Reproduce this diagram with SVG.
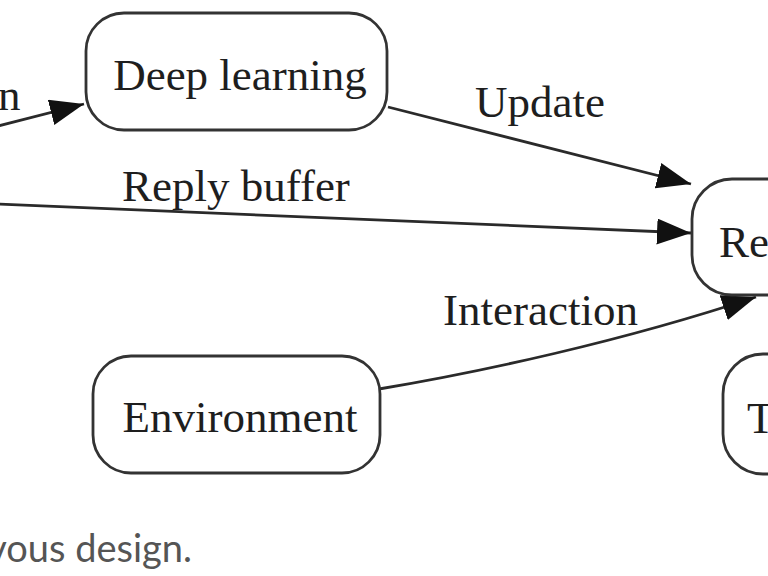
<svg xmlns="http://www.w3.org/2000/svg" width="768" height="576" viewBox="0 0 768 576">
<defs>
<style>
.node{fill:#fff;stroke:#333;stroke-width:2.8}
.lbl{font-family:"Liberation Serif","Times New Roman",serif;font-size:45px;fill:#1e1e1e}
.edge{fill:none;stroke:#2a2a2a;stroke-width:2.8}
.cap{font-family:Lato,"Open Sans",sans-serif;font-size:38px;fill:#555}
</style>
<marker id="ah" markerUnits="userSpaceOnUse" markerWidth="36" markerHeight="28" refX="34" refY="13" orient="auto">
<path d="M0,0 L34,13 L0,26 Z" fill="#111"/>
</marker>
</defs>
<rect width="768" height="576" fill="#fff"/>
<g id="connectors">
<path class="edge" d="M-10,128 L84,104" marker-end="url(#ah)"/>
<text class="lbl" x="-2" y="110">n</text>
<path class="edge" d="M388,107 L691,184" marker-end="url(#ah)"/>
<text class="lbl" x="475" y="117">Update</text>
<path class="edge" d="M-5,204 Q350,218 691,233" marker-end="url(#ah)"/>
<text class="lbl" x="122" y="201">Reply buffer</text>
<path class="edge" d="M379,389 C480,372 620,342 756,297" marker-end="url(#ah)"/>
<text class="lbl" x="443" y="325">Interaction</text>
</g>
<g id="node-deep-learning">
<rect class="node" x="86" y="13" width="301" height="117" rx="38"/>
<text class="lbl" x="240" y="90" text-anchor="middle">Deep learning</text>
</g>
<g id="node-reply">
<rect class="node" x="692" y="179" width="120" height="116" rx="40"/>
<text class="lbl" x="719" y="257">Re</text>
</g>
<g id="node-environment">
<rect class="node" x="93" y="356" width="287" height="117" rx="38"/>
<text class="lbl" x="240" y="432" text-anchor="middle">Environment</text>
</g>
<g id="node-t">
<rect class="node" x="723" y="354" width="100" height="120" rx="40"/>
<text class="lbl" x="747" y="433">T</text>
</g>
<text class="cap" x="192" y="562" text-anchor="end">vous design.</text>
</svg>
